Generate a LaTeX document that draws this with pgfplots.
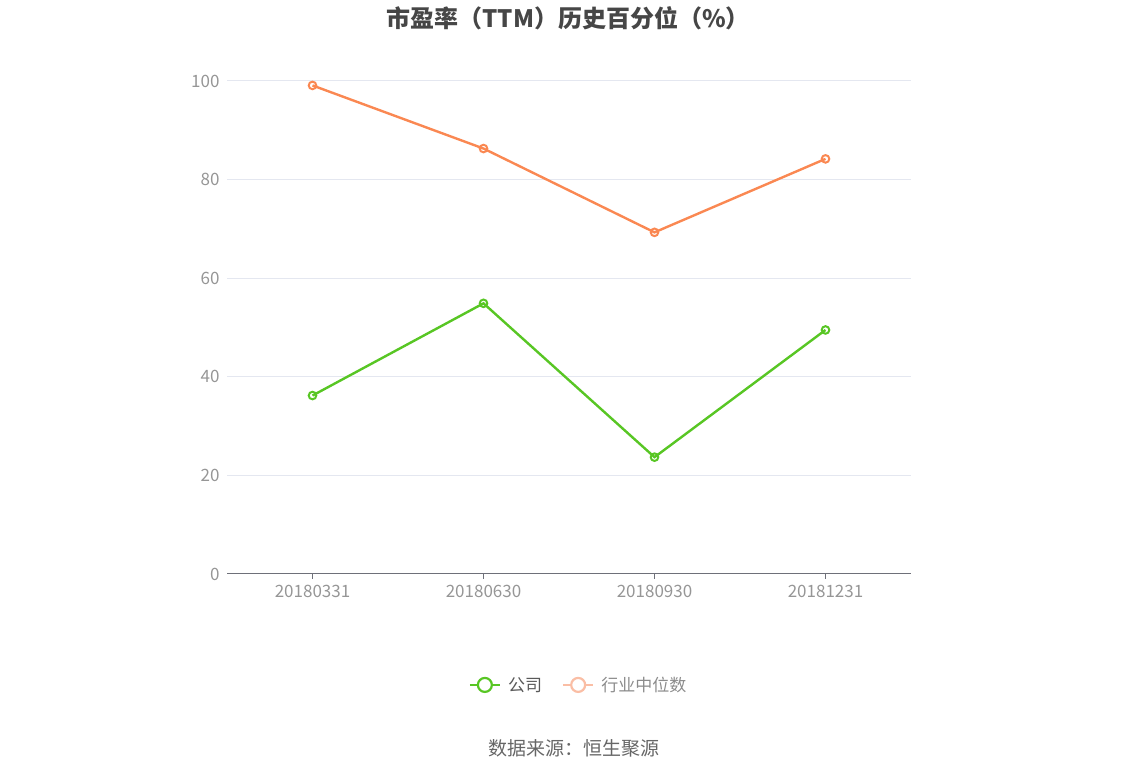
\documentclass[border=0pt]{standalone}
\usepackage{pgfplots}
\pgfplotsset{compat=1.18}
\usepackage{fontspec}
\setmainfont{Noto Sans CJK SC}
\definecolor{gsgreen}{RGB}{88,198,36}
\definecolor{gsorange}{RGB}{250,136,82}
\definecolor{paleorange}{RGB}{250,190,165}
\definecolor{gridc}{RGB}{228,231,240}
\definecolor{axisc}{RGB}{110,112,121}
\definecolor{tickc}{RGB}{150,150,150}
\definecolor{titlec}{RGB}{70,70,70}
\begin{document}
\begin{tikzpicture}[x=1pt,y=1pt]
\path[use as bounding box] (0,0) rectangle (1148,776);
\node[font=\fontsize{24}{28}\selectfont\bfseries, text=titlec] at (568,758) {市盈率（TTM）历史百分位（\%）};
\node[font=\fontsize{19}{22}\selectfont, text=black!60] at (574,28) {数据来源：恒生聚源};
\begin{axis}[
    at={(227pt,202pt)}, anchor=south west,
    scale only axis,
    width=684pt, height=493pt,
    xmin=-0.5, xmax=3.5,
    ymin=0, ymax=100,
    xtick={0,1,2,3},
    xticklabels={20180331,20180630,20180930,20181231},
    ytick={0,20,40,60,80,100},
    axis x line*=bottom,
    axis y line*=left,
    y axis line style={draw=none},
    ytick style={draw=none},
    ymajorgrids=true,
    major grid style={gridc, line width=1pt},
    x axis line style={axisc, line width=1pt, -},
    xtick style={axisc, line width=1pt},
    major tick length=5pt,
    xtick align=outside,
    tick label style={font=\fontsize{17}{20}\selectfont, text=tickc},
    /pgf/number format/assume math mode=true,
    xticklabel style={yshift=-3pt},
    yticklabel style={xshift=-4pt},
    clip=false,
    legend columns=2,
    legend style={at={(0.514,-0.225)}, anchor=center, draw=none, fill=none,
        font=\fontsize{17}{20}\selectfont,
        /tikz/every even column/.append style={column sep=18pt}},
    legend image code/.code={
        \draw[#1, line width=2.2pt] (0pt,0pt) -- (30pt,0pt);
        \draw[#1, line width=2.2pt, fill=white] (15pt,0pt) circle (7pt);
        \path (36pt,0pt);
    },
]
\addplot[gsorange, line width=2.4pt, mark=o, mark size=3.8pt,
    mark options={line width=2pt, fill=white}, forget plot]
    coordinates {(0,99.1) (1,86.3) (2,69.3) (3,84.2)};
\addplot[gsgreen, line width=2.4pt, mark=o, mark size=3.8pt,
    mark options={line width=2pt, fill=white}, forget plot]
    coordinates {(0,36.2) (1,54.9) (2,23.7) (3,49.5)};
\addlegendimage{gsgreen}
\addlegendentry{\textcolor{black!65}{公司}}
\addlegendimage{paleorange}
\addlegendentry{\textcolor{black!45}{行业中位数}}
\end{axis}
\end{tikzpicture}
\end{document}
